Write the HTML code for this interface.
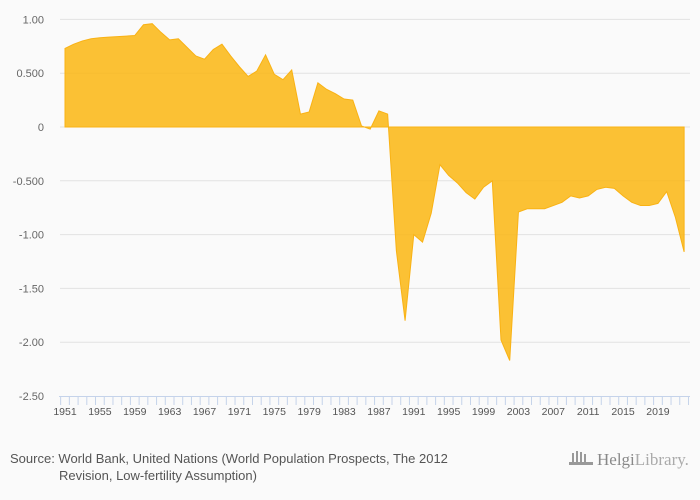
<!DOCTYPE html>
<html><head><meta charset="utf-8"><style>
body{margin:0;background:#fafafa;width:700px;height:500px;overflow:hidden;font-family:"Liberation Sans",sans-serif}
svg{display:block}
</style></head><body>
<svg id="chart" width="700" height="500" viewBox="0 0 700 500">
<rect x="0" y="0" width="700" height="500" fill="#fafafa"/>
<g id="grid"></g>
<g id="ylabels"></g>
<path id="area" fill="#fbb818" fill-opacity="0.88" stroke="#f9b214" stroke-width="1"/>
<g id="xaxis"></g>
<text x="10" y="463" font-size="13" fill="#555">Source: World Bank, United Nations (World Population Prospects, The 2012</text>
<text x="59" y="480" font-size="13" fill="#555">Revision, Low-fertility Assumption)</text>
<g>
<g fill="#999"><rect x="572" y="453" width="2" height="9"/><rect x="576" y="451" width="2" height="11"/><rect x="580" y="452" width="2" height="10"/><rect x="584" y="454" width="2" height="8"/><rect x="569" y="462" width="24" height="3"/></g>
<text x="597" y="465" font-family="Liberation Serif,serif" font-size="17" fill="#888">Helgi<tspan fill="#aaa">Library.</tspan></text>
</g>
</svg>
<script>
const years=[];for(let y=1951;y<=2022;y++)years.push(y);
const values=[0.73,0.77,0.80,0.82,0.83,0.835,0.84,0.845,0.85,0.95,0.96,0.88,0.81,0.82,0.74,0.66,0.63,0.72,0.77,0.66,0.56,0.47,0.52,0.67,0.49,0.44,0.53,0.12,0.14,0.41,0.35,0.31,0.26,0.25,0.01,-0.02,0.15,0.12,-1.15,-1.80,-1.00,-1.07,-0.80,-0.35,-0.45,-0.52,-0.61,-0.67,-0.56,-0.50,-1.98,-2.17,-0.79,-0.76,-0.76,-0.76,-0.73,-0.70,-0.64,-0.66,-0.64,-0.58,-0.56,-0.57,-0.64,-0.70,-0.73,-0.73,-0.71,-0.60,-0.84,-1.16];
const yTicks=[1,0.5,0,-0.5,-1,-1.5,-2,-2.5];
const yTickLabels=["1.00","0.500","0","-0.500","-1.00","-1.50","-2.00","-2.50"];
const xLabelYears=[1951,1955,1959,1963,1967,1971,1975,1979,1983,1987,1991,1995,1999,2003,2007,2011,2015,2019];
const NS="http://www.w3.org/2000/svg";
const X=y=>65+(y-1951)*8.72;
const Y=v=>127-v*107.6;
const grid=document.getElementById('grid'),yl=document.getElementById('ylabels'),xa=document.getElementById('xaxis');
yTicks.forEach((t,i)=>{
 if(t!==-2.5){const l=document.createElementNS(NS,'line');
 l.setAttribute('x1',60);l.setAttribute('x2',690);l.setAttribute('y1',Y(t));l.setAttribute('y2',Y(t));
 l.setAttribute('stroke','#e2e2e2');l.setAttribute('stroke-width','1');
 
 
 grid.appendChild(l);}
 const tx=document.createElementNS(NS,'text');
 tx.setAttribute('x',44);tx.setAttribute('y',Y(t)+4);tx.setAttribute('text-anchor','end');
 tx.setAttribute('font-size','11');tx.setAttribute('fill','#666');tx.textContent=yTickLabels[i];
 
 
 yl.appendChild(tx);
});
let d='M'+X(years[0])+','+Y(0);
years.forEach((y,i)=>{d+=' L'+X(y)+','+Y(values[i]);});
d+=' L'+X(years[years.length-1])+','+Y(0)+' Z';
document.getElementById('area').setAttribute('d',d);
const ax=document.createElementNS(NS,'line');
ax.setAttribute('x1',59);ax.setAttribute('x2',690);ax.setAttribute('y1',396.5);ax.setAttribute('y2',396.5);ax.setAttribute('stroke','#c5d3ea');


xa.appendChild(ax);
for(let k=0;k<=years.length;k++){
 const x=X(1951+k)-4.36;if(x>691)break;
 const t=document.createElementNS(NS,'line');
 t.setAttribute('x1',x);t.setAttribute('x2',x);t.setAttribute('y1',396);t.setAttribute('y2',405);t.setAttribute('stroke','#c5d3ea');
 
 
 xa.appendChild(t);
}
xLabelYears.forEach(y=>{
 const t=document.createElementNS(NS,'text');
 t.setAttribute('x',X(y));t.setAttribute('y',415);t.setAttribute('text-anchor','middle');
 t.setAttribute('font-size','10.5');t.setAttribute('fill','#555');t.textContent=y;
 
 
 xa.appendChild(t);
});
</script>
</body></html>
